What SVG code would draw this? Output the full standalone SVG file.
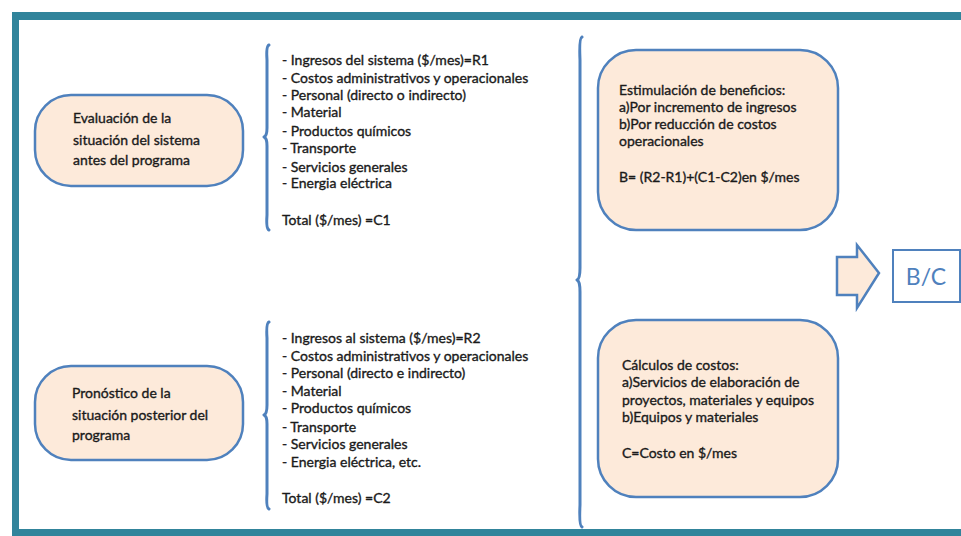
<svg xmlns="http://www.w3.org/2000/svg" width="961" height="536" viewBox="0 0 961 536">
<style>
.frame{fill:#31849B}
.box{fill:#FDEADA;stroke:#4F81BD;stroke-width:2.5}
.brace{fill:none;stroke:#4F81BD;stroke-width:3;stroke-linecap:round;stroke-linejoin:round}
text{font-family:Lato,"Open Sans","Liberation Sans",sans-serif;font-size:14px;fill:#1A1A1A;stroke:#1A1A1A;stroke-width:0.35}
.bc{font-size:23px;fill:#4F81BD;stroke:none;text-anchor:middle}
</style>
<rect width="961" height="536" fill="#FFFFFF"/>
<g id="frame">
<rect class="frame" x="12" y="12" width="949" height="8"/>
<rect class="frame" x="12" y="12" width="7" height="524"/>
<rect class="frame" x="12" y="529" width="949" height="7"/>
</g>
<g id="connectors">
<path class="brace" d="M269,45 Q266,46 267,60 L267,128 Q267,136 264,137 Q267,138 267,146 L267,215 Q266,229 269,230"/>
<path class="brace" d="M269,322 Q266,323 267,338 L267,405 Q267,414 264,415 Q267,416 267,424 L267,494 Q266,508 269,509"/>
<path class="brace" d="M582,37 Q579,38 580,60 L580,268 Q580,279 577,280 Q580,281 580,292 L580,505 Q579,526 582,527"/>
<path class="box" d="M837,257 L857,257 L857,245 L879,273 L857,308 L857,295 L837,295 Z"/>
</g>
<g id="node-antes">
<rect class="box" x="35" y="95" width="208" height="91" rx="36"/>
<text x="73" y="123">Evaluación de la</text>
<text x="73" y="145">situación del sistema</text>
<text x="73" y="165">antes del programa</text>
</g>
<g id="node-posterior">
<rect class="box" x="35" y="366" width="208" height="94" rx="36"/>
<text x="72" y="398">Pronóstico de la</text>
<text x="72" y="420">situación posterior del</text>
<text x="72" y="440">programa</text>
</g>
<g id="list-antes">
<text x="282" y="65">- Ingresos del sistema ($/mes)=R1</text>
<text x="282" y="83">- Costos administrativos y operacionales</text>
<text x="282" y="100">- Personal (directo o indirecto)</text>
<text x="282" y="117">- Material</text>
<text x="282" y="136">- Productos químicos</text>
<text x="282" y="153">- Transporte</text>
<text x="282" y="172">- Servicios generales</text>
<text x="282" y="188">- Energia eléctrica</text>
<text x="282" y="225">Total ($/mes) =C1</text>
</g>
<g id="list-posterior">
<text x="282" y="343">- Ingresos al sistema ($/mes)=R2</text>
<text x="282" y="361">- Costos administrativos y operacionales</text>
<text x="282" y="378">- Personal (directo e indirecto)</text>
<text x="282" y="396">- Material</text>
<text x="282" y="413">- Productos químicos</text>
<text x="282" y="432">- Transporte</text>
<text x="282" y="449">- Servicios generales</text>
<text x="282" y="467">- Energia eléctrica, etc.</text>
<text x="282" y="503">Total ($/mes) =C2</text>
</g>
<g id="node-beneficios">
<rect class="box" x="598" y="50" width="240" height="180" rx="38"/>
<text x="619" y="95">Estimulación de beneficios:</text>
<text x="619" y="112">a)Por incremento de ingresos</text>
<text x="619" y="129">b)Por reducción de costos</text>
<text x="619" y="146">operacionales</text>
<text x="619" y="182">B= (R2-R1)+(C1-C2)en $/mes</text>
</g>
<g id="node-costos">
<rect class="box" x="598" y="320" width="240" height="177" rx="38"/>
<text x="622" y="370">Cálculos de costos:</text>
<text x="622" y="387">a)Servicios de elaboración de</text>
<text x="622" y="405">proyectos, materiales y equipos</text>
<text x="622" y="422">b)Equipos y materiales</text>
<text x="622" y="458">C=Costo en $/mes</text>
</g>
<g id="node-bc">
<rect x="893" y="250" width="67" height="52" fill="#FFFFFF" stroke="#4F81BD" stroke-width="2"/>
<text class="bc" x="926" y="285">B/C</text>
</g>
</svg>
